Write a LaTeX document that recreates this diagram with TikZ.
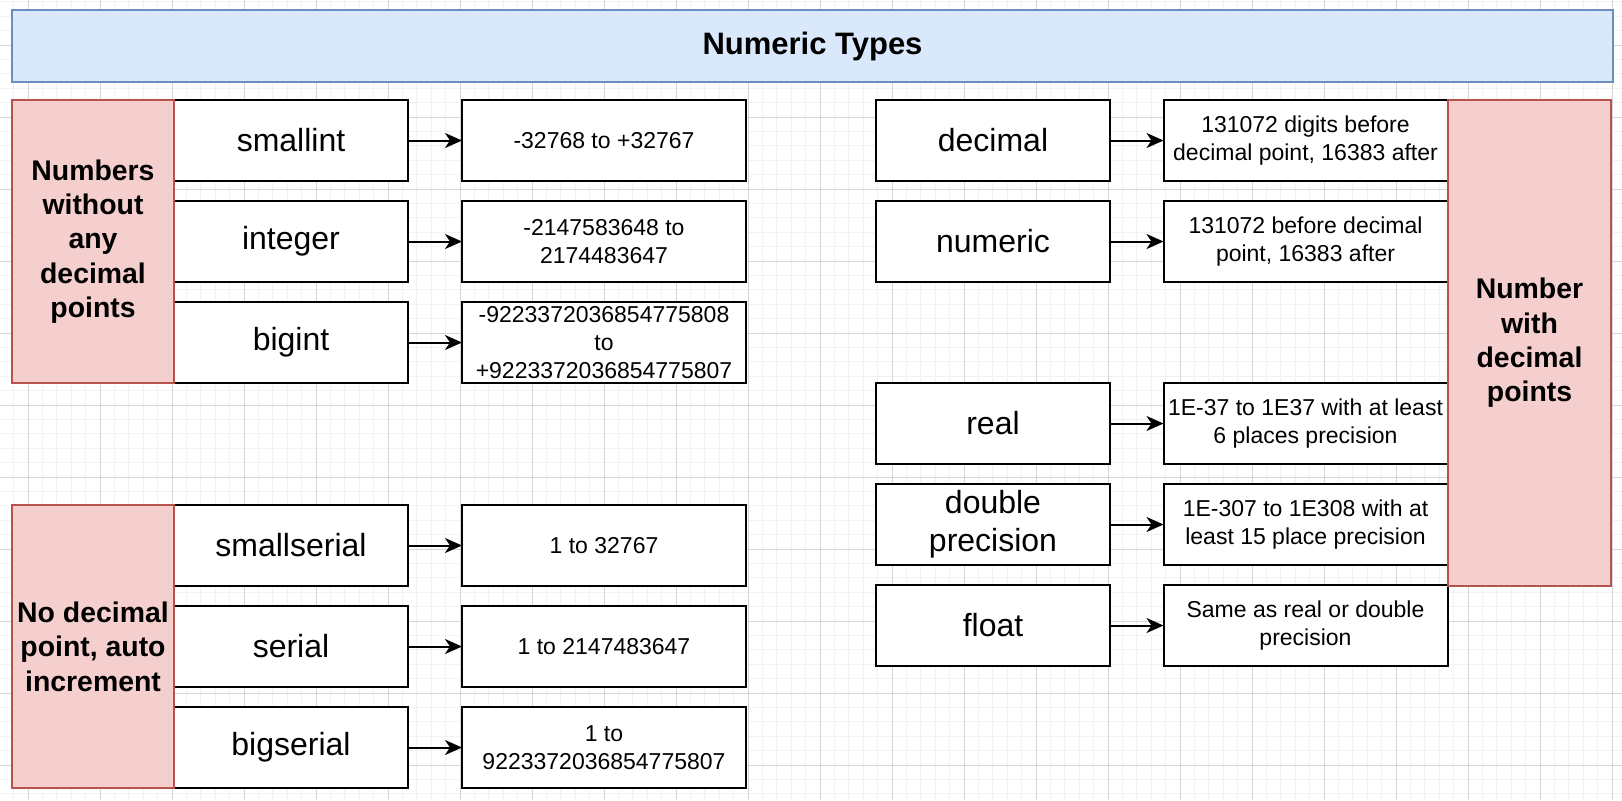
\documentclass[tikz,border=0pt]{standalone}
\usepackage{fontspec}
\setmainfont{Liberation Sans}
\usetikzlibrary{arrows.meta}

\definecolor{titlefill}{HTML}{DAE8FC}
\definecolor{titleline}{HTML}{6C8EBF}
\definecolor{groupfill}{HTML}{F4CFCD}
\definecolor{groupline}{HTML}{B85450}
\definecolor{gridmajor}{HTML}{D5D5D5}
\definecolor{gridminor}{HTML}{F2F2F2}

\begin{document}
\begin{tikzpicture}[x=0.5pt, y=-0.5pt,
    typebox/.style={draw, line width=1pt, fill=white, inner sep=0pt, outer sep=0pt,
        minimum width=117pt, minimum height=40.5pt, align=center,
        font=\fontsize{16}{19}\selectfont},
    valbox/.style={typebox, minimum width=142pt, font=\fontsize{11.5}{13.8}\selectfont},
    groupbox/.style={draw=groupline, fill=groupfill, line width=0.75pt, inner sep=0pt,
        outer sep=0pt, minimum width=81pt, align=center,
        font=\bfseries\fontsize{14.2}{17.2}\selectfont},
    arr/.style={-{Stealth[length=8.5pt, width=7.5pt, inset=2.5pt]}, line width=1pt}]
                % Background grid
                \useasboundingbox (0,0) rectangle (1622,800);
                \fill [white] (0,0) rectangle (1622,800);
                \foreach \i in {0,...,111}
                    \draw [gridminor, line width=0.5pt] (13.6+14.4*\i,0) -- (13.6+14.4*\i,800);
                \foreach \j in {0,...,55}
                    \draw [gridminor, line width=0.5pt] (0,1.8+14.4*\j) -- (1622,1.8+14.4*\j);
                \foreach \i in {0,...,22}
                    \draw [gridmajor, line width=0.5pt] (28+72*\i,0) -- (28+72*\i,800);
                \foreach \j in {0,...,10}
                    \draw [gridmajor, line width=0.5pt] (0,45+72*\j) -- (1622,45+72*\j);

                % Title
                \node [draw=titleline, fill=titlefill, line width=0.75pt, minimum width=800.5pt,
                    minimum height=36pt, font=\bfseries\fontsize{15.5}{18}\selectfont]
                    (title) at (812.5,46) {Numeric Types};

                % Integer types
                \node [typebox] (smallint) at (291,140.5) {smallint};
                \node [typebox] (integer) at (291,241.5) {integer};
                \node [typebox] (bigint) at (291,342.5) {bigint};
                \node [valbox] (smallintval) at (604,140.5) {-32768 to +32767};
                \node [valbox] (integerval) at (604,241.5) {-2147583648 to\\2174483647};
                \node [valbox] (bigintval) at (604,342.5) {-9223372036854775808\\to\\+9223372036854775807};
                \draw [arr] (smallint) -- (smallintval);
                \draw [arr] (integer) -- (integerval);
                \draw [arr] (bigint) -- (bigintval);
                \node [groupbox, minimum height=141.5pt] (intgroup) at (93,241.5)
                    {Numbers\\without\\any\\decimal\\points};

                % Serial types
                \node [typebox] (smallserial) at (291,545.5) {smallserial};
                \node [typebox] (serial) at (291,646.5) {serial};
                \node [typebox] (bigserial) at (291,747.5) {bigserial};
                \node [valbox] (smallserialval) at (604,545.5) {1 to 32767};
                \node [valbox] (serialval) at (604,646.5) {1 to 2147483647};
                \node [valbox] (bigserialval) at (604,747.5) {1 to\\9223372036854775807};
                \draw [arr] (smallserial) -- (smallserialval);
                \draw [arr] (serial) -- (serialval);
                \draw [arr] (bigserial) -- (bigserialval);
                \node [groupbox, minimum height=141.5pt] (serialgroup) at (93,646.5)
                    {No decimal\\point, auto\\increment};

                % Decimal types
                \node [typebox] (decimal) at (993,140.5) {decimal};
                \node [typebox] (numeric) at (993,241.5) {numeric};
                \node [typebox] (real) at (993,423.5) {real};
                \node [typebox] (double) at (993,524.5) {double\\precision};
                \node [typebox] (float) at (993,625.5) {float};
                \node [valbox] (decimalval) at (1305.5,140.5) {131072 digits before\\decimal point, 16383 after};
                \node [valbox] (numericval) at (1305.5,241.5) {131072 before decimal\\point, 16383 after};
                \node [valbox] (realval) at (1305.5,423.5) {1E-37 to 1E37 with at least\\6 places precision};
                \node [valbox] (doubleval) at (1305.5,524.5) {1E-307 to 1E308 with at\\least 15 place precision};
                \node [valbox] (floatval) at (1305.5,625.5) {Same as real or double\\precision};
                \draw [arr] (decimal) -- (decimalval);
                \draw [arr] (numeric) -- (numericval);
                \draw [arr] (real) -- (realval);
                \draw [arr] (double) -- (doubleval);
                \draw [arr] (float) -- (floatval);
                \node [groupbox, minimum width=81.5pt, minimum height=243pt] (decgroup) at (1529.5,343)
                    {Number\\with\\decimal\\points};
            \end{tikzpicture}
\end{document}
